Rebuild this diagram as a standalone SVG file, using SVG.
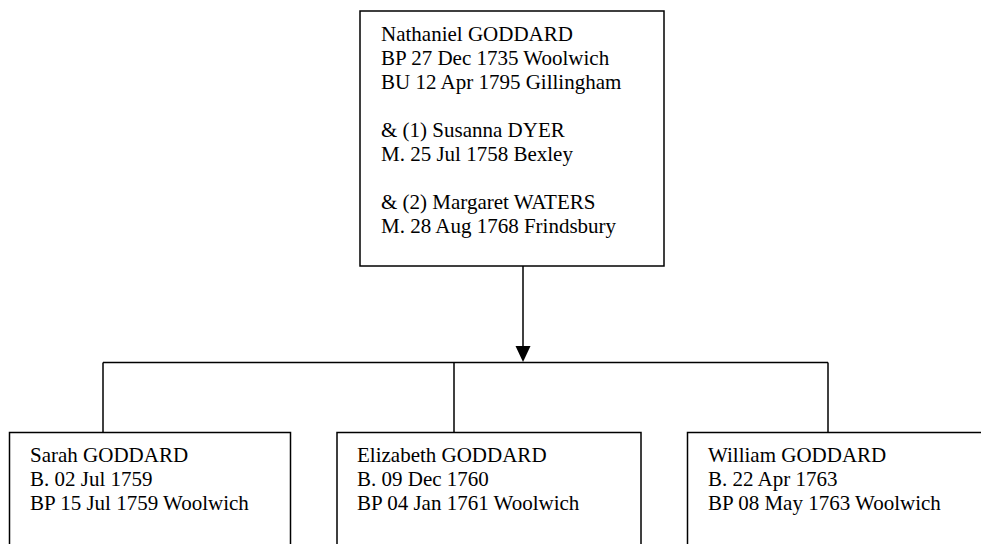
<svg xmlns="http://www.w3.org/2000/svg" width="981" height="544" viewBox="0 0 981 544">
<style>
.box{fill:#fff;stroke:#000;stroke-width:1.5}
.ln{fill:none;stroke:#000;stroke-width:1.5}
.arrowhead{fill:#000}
text{font-family:"Liberation Serif","Times New Roman",serif;font-size:21px;fill:#000}
</style>
<rect width="981" height="544" fill="#fff"/>
<g id="connectors">
<line class="ln" x1="523" y1="266" x2="523" y2="346"/>
<path class="arrowhead" d="M515.5,346 L530.5,346 L523,362 Z"/>
<line class="ln" x1="103" y1="362.5" x2="828" y2="362.5"/>
<line class="ln" x1="103" y1="362.5" x2="103" y2="432.5"/>
<line class="ln" x1="454" y1="362.5" x2="454" y2="432.5"/>
<line class="ln" x1="828" y1="362.5" x2="828" y2="432.5"/>
</g>
<g id="nathaniel">
<rect class="box" x="360" y="11" width="304" height="255"/>
<text x="381" y="40.5">Nathaniel GODDARD</text>
<text x="381" y="64.5">BP 27 Dec 1735 Woolwich</text>
<text x="381" y="88.5">BU 12 Apr 1795 Gillingham</text>
<text x="381" y="136.5">&amp; (1) Susanna DYER</text>
<text x="381" y="160.5">M. 25 Jul 1758 Bexley</text>
<text x="381" y="208.5">&amp; (2) Margaret WATERS</text>
<text x="381" y="232.5">M. 28 Aug 1768 Frindsbury</text>
</g>
<g id="sarah">
<rect class="box" x="9.5" y="432.5" width="281" height="130"/>
<text x="30" y="461.5">Sarah GODDARD</text>
<text x="30" y="485.5">B. 02 Jul 1759</text>
<text x="30" y="509.5">BP 15 Jul 1759 Woolwich</text>
</g>
<g id="elizabeth">
<rect class="box" x="337" y="432.5" width="304" height="130"/>
<text x="357" y="461.5">Elizabeth GODDARD</text>
<text x="357" y="485.5">B. 09 Dec 1760</text>
<text x="357" y="509.5">BP 04 Jan 1761 Woolwich</text>
</g>
<g id="william">
<rect class="box" x="687.5" y="432.5" width="320" height="130"/>
<text x="708" y="461.5">William GODDARD</text>
<text x="708" y="485.5">B. 22 Apr 1763</text>
<text x="708" y="509.5">BP 08 May 1763 Woolwich</text>
</g>
</svg>
